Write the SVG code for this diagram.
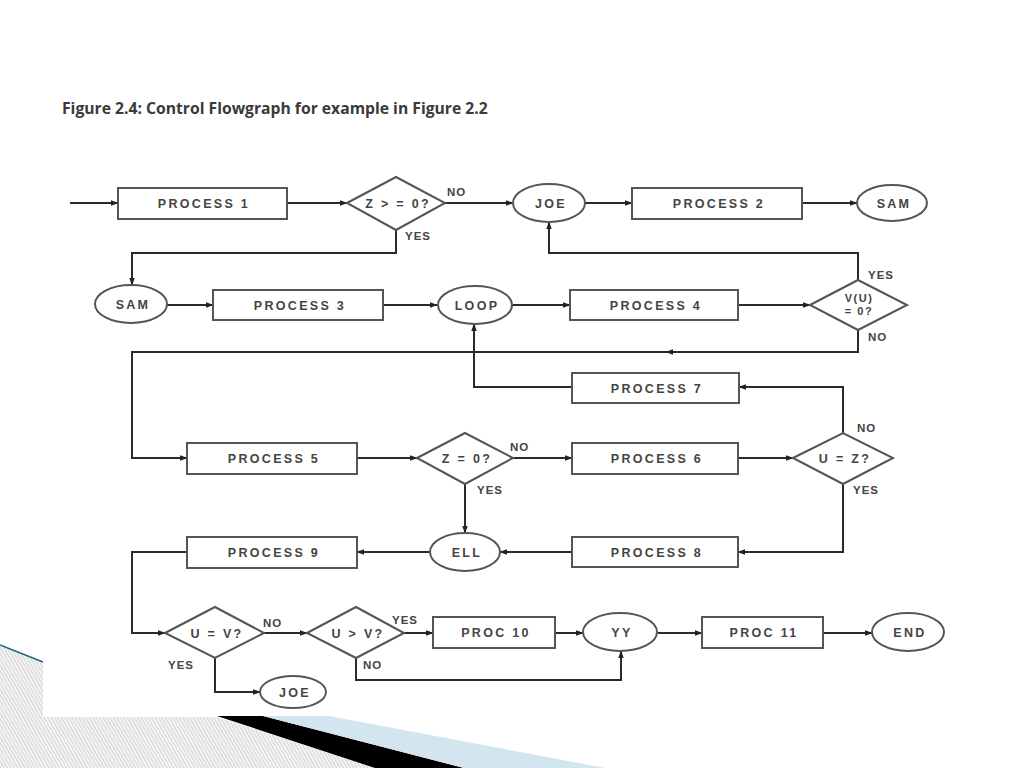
<svg xmlns="http://www.w3.org/2000/svg" width="1024" height="768" viewBox="0 0 1024 768">
<defs>
<pattern id="hatch" width="3" height="3" patternUnits="userSpaceOnUse" patternTransform="rotate(-30)">
<rect width="3" height="3" fill="#f4f4f4"/>
<line x1="0" y1="0" x2="0" y2="3" stroke="#b4b4b4" stroke-width="1"/>
</pattern>
<marker id="arr" viewBox="0 0 10 10" refX="9" refY="5" markerWidth="8" markerHeight="8" markerUnits="userSpaceOnUse" orient="auto">
<path d="M0,1.5 L10,5 L0,8.5 Z" fill="#222"/>
</marker>
<style>
.box{fill:#fff;stroke:#555;stroke-width:2}
.node text,.lbl{font-family:"Liberation Sans",Arial,sans-serif;font-weight:bold;fill:#444}
.node text{font-size:12.5px;letter-spacing:2.3px;text-anchor:middle}
.node text.sm{font-size:11px;letter-spacing:1.5px}
.lbl{font-size:11.5px;letter-spacing:1px}
.conn path{fill:none;stroke:#2a2a2a;stroke-width:2;marker-end:url(#arr)}
.title{font-family:"Open Sans","Noto Sans",sans-serif;font-weight:bold;font-size:15.7px;fill:#3a3a3a}
</style>
</defs>
<rect width="1024" height="768" fill="#fff"/>
<g id="decoration">
<polygon points="0,645 43,662 43,717 217,717 375,768 0,768" fill="url(#hatch)"/>
<line x1="0" y1="645" x2="43" y2="662" stroke="#1d6b80" stroke-width="1.5"/>
<polygon points="217,716 263,716 464,768 375,768" fill="#000"/>
<polygon points="263,716 329,716 605,768 464,768" fill="#d3e5ee"/>
</g>
<rect x="43" y="160" width="930" height="556" fill="#fff"/>
<text class="title" x="62" y="114">Figure 2.4: Control Flowgraph for example in Figure 2.2</text>

<g id="connectors" class="conn">
<path d="M70,203 H118"/>
<path d="M287,203 H347"/>
<path d="M445,203 H513"/>
<path d="M585,203 H632"/>
<path d="M802,203 H857"/>
<path d="M396,230 V253 H132 V285"/>
<path d="M167,305 H213"/>
<path d="M383,305 H437"/>
<path d="M512,305 H570"/>
<path d="M738,305 H810"/>
<path d="M858,280 V253 H549 V222"/>
<path d="M858,330 V352 H666"/>
<path d="M670,352 H132 V458 H187"/>
<path d="M357,458 H417"/>
<path d="M513,458 H572"/>
<path d="M738,458 H793"/>
<path d="M843,433 V387 H739"/>
<path d="M572,387 H474 V324"/>
<path d="M843,484 V552 H738"/>
<path d="M572,552 H500"/>
<path d="M465,484 V533"/>
<path d="M430,552 H357"/>
<path d="M187,552 H132 V633 H165"/>
<path d="M264,633 H307"/>
<path d="M404,633 H433"/>
<path d="M555,633 H583"/>
<path d="M658,633 H702"/>
<path d="M823,633 H872"/>
<path d="M215,658 V692 H260"/>
<path d="M356,658 V680 H621 V651"/>
</g>

<g id="labels">
<text class="lbl" x="447" y="196">NO</text>
<text class="lbl" x="405" y="240">YES</text>
<text class="lbl" x="868" y="279">YES</text>
<text class="lbl" x="868" y="341">NO</text>
<text class="lbl" x="510" y="451">NO</text>
<text class="lbl" x="477" y="494">YES</text>
<text class="lbl" x="857" y="432">NO</text>
<text class="lbl" x="853" y="494">YES</text>
<text class="lbl" x="263" y="627">NO</text>
<text class="lbl" x="392" y="624">YES</text>
<text class="lbl" x="168" y="669">YES</text>
<text class="lbl" x="363" y="669">NO</text>
</g>

<g id="process1" class="node"><rect class="box" x="118" y="188" width="169" height="31"/><text x="204" y="208">PROCESS 1</text></g>
<g id="decision1" class="node"><polygon class="box" points="347,203 396,177 445,203 396,230"/><text x="398" y="208">Z &gt; = 0?</text></g>
<g id="joe1" class="node"><ellipse class="box" cx="549" cy="203" rx="36" ry="19"/><text x="551" y="208">JOE</text></g>
<g id="process2" class="node"><rect class="box" x="632" y="188" width="170" height="31"/><text x="719" y="208">PROCESS 2</text></g>
<g id="sam1" class="node"><ellipse class="box" cx="892" cy="203" rx="35" ry="18"/><text x="894" y="208">SAM</text></g>

<g id="sam2" class="node"><ellipse class="box" cx="131" cy="304" rx="36" ry="19"/><text x="133" y="309">SAM</text></g>
<g id="process3" class="node"><rect class="box" x="213" y="290" width="170" height="30"/><text x="300" y="310">PROCESS 3</text></g>
<g id="loop" class="node"><ellipse class="box" cx="475" cy="305" rx="37" ry="19"/><text x="477" y="310">LOOP</text></g>
<g id="process4" class="node"><rect class="box" x="570" y="290" width="168" height="30"/><text x="656" y="310">PROCESS 4</text></g>
<g id="decision2" class="node"><polygon class="box" points="810,305 858,280 907,305 858,330"/><text class="sm" x="859" y="302">V(U)</text><text class="sm" x="859" y="315">= 0?</text></g>

<g id="process7" class="node"><rect class="box" x="572" y="373" width="167" height="30"/><text x="657" y="393">PROCESS 7</text></g>
<g id="process5" class="node"><rect class="box" x="187" y="443" width="170" height="31"/><text x="274" y="463">PROCESS 5</text></g>
<g id="decision3" class="node"><polygon class="box" points="417,458 465,433 513,458 465,484"/><text x="467" y="463">Z = 0?</text></g>
<g id="process6" class="node"><rect class="box" x="572" y="443" width="166" height="31"/><text x="657" y="463">PROCESS 6</text></g>
<g id="decision4" class="node"><polygon class="box" points="793,458 843,433 893,458 843,484"/><text x="845" y="463">U = Z?</text></g>

<g id="process9" class="node"><rect class="box" x="187" y="537" width="170" height="31"/><text x="274" y="557">PROCESS 9</text></g>
<g id="ell" class="node"><ellipse class="box" cx="465" cy="552" rx="35" ry="19"/><text x="467" y="557">ELL</text></g>
<g id="process8" class="node"><rect class="box" x="572" y="537" width="166" height="30"/><text x="657" y="557">PROCESS 8</text></g>

<g id="decision5" class="node"><polygon class="box" points="165,633 215,607 264,633 215,658"/><text x="217" y="638">U = V?</text></g>
<g id="decision6" class="node"><polygon class="box" points="307,633 356,607 404,633 356,658"/><text x="358" y="638">U &gt; V?</text></g>
<g id="proc10" class="node"><rect class="box" x="433" y="617" width="122" height="31"/><text x="496" y="637">PROC 10</text></g>
<g id="yy" class="node"><ellipse class="box" cx="620" cy="632" rx="37" ry="19"/><text x="622" y="637">YY</text></g>
<g id="proc11" class="node"><rect class="box" x="702" y="617" width="121" height="31"/><text x="764" y="637">PROC 11</text></g>
<g id="end" class="node"><ellipse class="box" cx="908" cy="632" rx="36" ry="19"/><text x="910" y="637">END</text></g>
<g id="joe2" class="node"><ellipse class="box" cx="293" cy="692" rx="33" ry="16"/><text x="295" y="697">JOE</text></g>
</svg>
